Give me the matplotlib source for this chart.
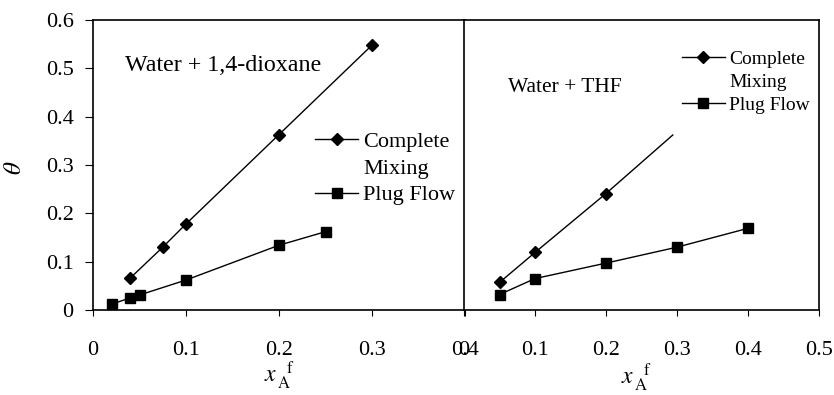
import matplotlib
matplotlib.use("Agg")
import matplotlib.pyplot as plt
from matplotlib.lines import Line2D

plt.rcParams["font.family"] = ["Liberation Serif", "DejaVu Serif"]
plt.rcParams["mathtext.fontset"] = "stix"

# Water + 1,4-dioxane
diox_cm_x = [0.04, 0.075, 0.1, 0.2, 0.3]
diox_cm_y = [0.066, 0.130, 0.178, 0.363, 0.548]
diox_pf_x = [0.02, 0.04, 0.05, 0.1, 0.2, 0.25]
diox_pf_y = [0.012, 0.025, 0.031, 0.062, 0.134, 0.162]

# Water + THF (complete-mixing curve runs on past its last marked point)
thf_cm_x = [0.05, 0.1, 0.2, 0.294]
thf_cm_y = [0.057, 0.119, 0.241, 0.362]
thf_pf_x = [0.05, 0.1, 0.2, 0.3, 0.4]
thf_pf_y = [0.032, 0.065, 0.097, 0.130, 0.169]

left_xticks = [0, 0.1, 0.2, 0.3, 0.4]
left_xlabels = ["0", "0.1", "0.2", "0.3", "0.4"]
right_xticks = [0, 0.1, 0.2, 0.3, 0.4, 0.5]
right_xlabels = ["0", "0.1", "0.2", "0.3", "0.4", "0.5"]
yticks = [0, 0.1, 0.2, 0.3, 0.4, 0.5, 0.6]
ylabels = ["0", "0.1", "0.2", "0.3", "0.4", "0.5", "0.6"]

fig = plt.figure(figsize=(8.34, 3.95), dpi=100)
axL = fig.add_axes([93 / 834, 1 - 310 / 395, 372 / 834, 290 / 395])
axR = fig.add_axes([464 / 834, 1 - 310 / 395, 355 / 834, 290 / 395])

xlab = r"$x_{\,\mathrm{A}}^{\;\;\;\mathrm{f}}$"

for ax in (axL, axR):
    for s in ax.spines.values():
        s.set_linewidth(1.2)
    ax.set_ylim(0, 0.6)
    ax.tick_params(axis="x", direction="out", length=4.5, width=0.8,
                   labelsize=16, pad=17.5)
    ax.tick_params(axis="y", direction="out", length=6, width=0.8,
                   labelsize=16, pad=8)

axL.set_xlim(0, 0.4)
axL.set_xticks(left_xticks, left_xlabels)
axL.set_yticks(yticks, ylabels)
axR.set_xlim(0, 0.5)
axR.set_xticks(right_xticks, right_xlabels)
axR.set_yticks([])

mk = dict(color="black", lw=1.0, mfc="black", mec="black")

# Left panel
axL.plot(diox_cm_x, diox_cm_y, marker="D", ms=6, **mk)
axL.plot(diox_pf_x, diox_pf_y, marker="s", ms=7.5, **mk)
axL.text(0.086, 0.843, "Water + 1,4-dioxane", transform=axL.transAxes,
         fontsize=17.3, va="center", ha="left")
axL.set_ylabel(r"$\theta$", fontsize=18)
axL.yaxis.set_label_coords(-0.18, 0.49)
axL.set_xlabel(xlab, fontsize=17)
axL.xaxis.set_label_coords(0.5, -0.172)

# Right panel
axR.plot(thf_cm_x, thf_cm_y, marker="D", ms=6, markevery=[0, 1, 2], **mk)
axR.plot(thf_pf_x, thf_pf_y, marker="s", ms=7.5, **mk)
axR.text(0.124, 0.766, "Water + THF", transform=axR.transAxes,
         fontsize=15.5, va="center", ha="left")
axR.set_xlabel(xlab, fontsize=17)
axR.xaxis.set_label_coords(0.487, -0.178)


def add_legend(ax, anchor, size):
    handles = [
        Line2D([], [], marker="D", ms=6, **mk),
        Line2D([], [], color="none"),
        Line2D([], [], marker="s", ms=7.5, **mk),
    ]
    labels = ["Complete", "Mixing", "Plug Flow"]
    ax.legend(handles, labels, loc="upper left", bbox_to_anchor=anchor,
              frameon=False, fontsize=size, borderpad=0, borderaxespad=0,
              handlelength=43 / 1.39 / size, handletextpad=0.22,
              labelspacing=0.28)


add_legend(axL, (0.597, 0.616), 16)
add_legend(axR, (0.614, 0.896), 14)

fig.savefig("out.png", dpi=100)
